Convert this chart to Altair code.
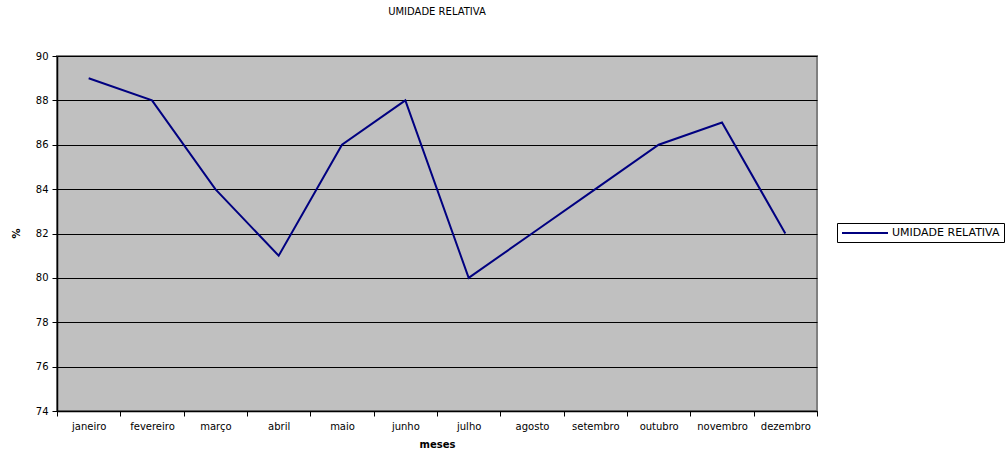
import altair as alt
import pandas as pd

# Umidade relativa mensal (%)
meses = ["janeiro", "fevereiro", "março", "abril", "maio", "junho",
         "julho", "agosto", "setembro", "outubro", "novembro", "dezembro"]
umidade = [89, 88, 84, 81, 86, 88, 80, 82, 84, 86, 87, 82]
serie = "UMIDADE RELATIVA"
y_ticks = list(range(74, 91, 2))

df = pd.DataFrame({"mes": meses, "umidade": umidade, "serie": serie})

FONT = "DejaVu Sans"

chart = (
    alt.Chart(df)
    .mark_line(strokeWidth=2)
    .encode(
        x=alt.X(
            "mes:N",
            sort=meses,
            bandPosition=0.5,
            scale=alt.Scale(type="band", paddingInner=0, paddingOuter=0),
            axis=alt.Axis(
                title="meses",
                titleFont=FONT,
                titleFontSize=10,
                titleFontWeight="bold",
                titleColor="black",
                titlePadding=8,
                labelFont=FONT,
                labelFontSize=10,
                labelColor="black",
                labelAngle=0,
                labelPadding=5,
                tickBand="extent",
                tickColor="black",
                tickSize=5,
                domainColor="black",
                domainWidth=1.5,
                grid=False,
            ),
        ),
        y=alt.Y(
            "umidade:Q",
            scale=alt.Scale(domain=[74, 90], nice=False, zero=False),
            axis=alt.Axis(
                title="%",
                titleFont=FONT,
                titleFontSize=10,
                titleFontWeight="bold",
                titleColor="black",
                titleAngle=-90,
                titleX=-36,
                titleY=177,
                values=y_ticks,
                labelFont=FONT,
                labelFontSize=10,
                labelColor="black",
                labelPadding=4,
                tickColor="black",
                tickSize=5,
                domainColor="black",
                domainWidth=1.5,
                grid=True,
                gridColor="black",
                gridWidth=1,
                gridOpacity=1,
            ),
        ),
        color=alt.Color(
            "serie:N",
            scale=alt.Scale(domain=[serie], range=["#000080"]),
            legend=alt.Legend(
                title=None,
                orient="none",
                legendX=780,
                legendY=167,
                # horizontal line sample, longer than the symbol's nominal box
                symbolType="M-1,0H8.2",
                symbolSize=100,
                symbolStrokeWidth=2,
                labelFont=FONT,
                labelFontSize=11,
                labelColor="black",
                labelLimit=300,
                labelOffset=39,
                strokeColor="black",
                fillColor="white",
                padding=4,
            ),
        ),
    )
    .properties(
        width=760,
        height=355,
        background="white",
        autosize=alt.AutoSizeParams(type="none"),
        padding={"left": 57, "top": 56, "right": 191, "bottom": 38},
        title=alt.TitleParams(
            "UMIDADE RELATIVA",
            font=FONT,
            fontSize=10,
            fontWeight="normal",
            color="black",
            offset=34,
        ),
    )
    .configure_view(fill="#C0C0C0", stroke="#808080", strokeWidth=2)
)

chart.save("out.html", embed_options={"renderer": "svg", "actions": False})
